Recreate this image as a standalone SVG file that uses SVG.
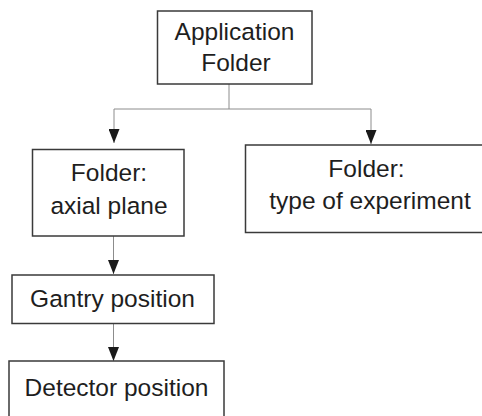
<svg xmlns="http://www.w3.org/2000/svg" width="482" height="416" viewBox="0 0 482 416">
<defs>
<style>
.box{fill:#fff;stroke:#3a3a3a;stroke-width:1.5}
.lbl{font-family:"Liberation Sans",Arial,sans-serif;font-size:24.5px;fill:#1e1e1e;text-anchor:middle}
.con{fill:none;stroke:#8c8c8c;stroke-width:1}
</style>
<marker id="arr" viewBox="0 0 14 11" refX="14" refY="5.5" markerWidth="14" markerHeight="11" markerUnits="userSpaceOnUse" orient="auto">
<path d="M0,0 L14,5.5 L0,11 z" fill="#1a1a1a"/>
</marker>
</defs>
<rect width="482" height="416" fill="#fff"/>
<g id="connectors">
<path class="con" d="M229,84 V109"/>
<path class="con" d="M114,109 H371"/>
<path class="con" d="M114,109 V143" marker-end="url(#arr)"/>
<path class="con" d="M371,109 V144" marker-end="url(#arr)"/>
<path class="con" d="M113.5,236 V274" marker-end="url(#arr)"/>
<path class="con" d="M113.5,324 V361" marker-end="url(#arr)"/>
</g>
<g id="app-folder">
<rect class="box" x="157.5" y="11" width="154.5" height="73"/>
<text class="lbl" x="234.5" y="40">Application</text>
<text class="lbl" x="236" y="70.5">Folder</text>
</g>
<g id="axial-plane">
<rect class="box" x="32.5" y="149.5" width="151.5" height="86.5"/>
<text class="lbl" x="109" y="181">Folder:</text>
<text class="lbl" x="109" y="214">axial plane</text>
</g>
<g id="experiment">
<rect class="box" x="245.5" y="145" width="250" height="87.5"/>
<text class="lbl" x="366.5" y="177">Folder:</text>
<text class="lbl" x="370" y="209">type of experiment</text>
</g>
<g id="gantry">
<rect class="box" x="12" y="275" width="202" height="48.5"/>
<text class="lbl" x="112.5" y="306.5">Gantry position</text>
</g>
<g id="detector">
<rect class="box" x="9" y="361" width="215" height="70"/>
<text class="lbl" x="116.5" y="396">Detector position</text>
</g>
</svg>
